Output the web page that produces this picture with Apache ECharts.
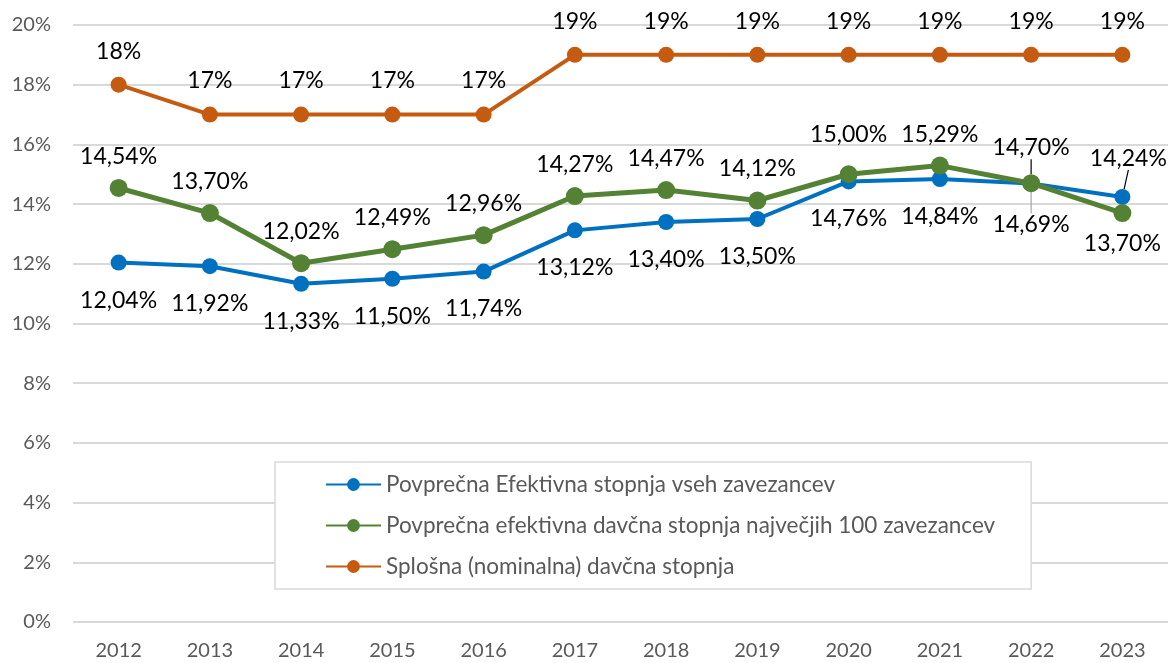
<!DOCTYPE html>
<html>
<head>
<meta charset="utf-8">
<script src="https://cdn.jsdelivr.net/npm/echarts@6/dist/echarts.min.js"></script>
<style>
  html, body { margin: 0; padding: 0; background: #fff; }
  #chart { width: 1174px; height: 663px; }
</style>
</head>
<body>
<div id="chart"></div>
<script>
var years = ['2012', '2013', '2014', '2015', '2016', '2017', '2018', '2019', '2020', '2021', '2022', '2023']
var vsiZavezanci = [12.04, 11.92, 11.33, 11.50, 11.74, 13.12, 13.40, 13.50, 14.76, 14.84, 14.69, 14.24]
var najvecjih100 = [14.54, 13.70, 12.02, 12.49, 12.96, 14.27, 14.47, 14.12, 15.00, 15.29, 14.70, 13.70]
var nominalna = [18, 17, 17, 17, 17, 19, 19, 19, 19, 19, 19, 19]
var yTicks = [0, 2, 4, 6, 8, 10, 12, 14, 16, 18, 20]

var fontFamily = 'Lato, "Open Sans", sans-serif'

function pct2(p) {
  return p.value.toFixed(2).replace('.', ',') + '%'
}

var labelBase = {
  show: true,
  color: '#000',
  fontSize: 23,
  fontFamily: fontFamily
}

// points whose label was pushed away get a leader line
function withLine(values, idxs, colors) {
  return values.map(function (v, i) {
    var k = idxs.indexOf(i)
    if (k < 0) return v
    return { value: v, labelLine: { show: true, lineStyle: { color: colors[k], width: 1.2 } } }
  })
}

var chart = echarts.init(document.getElementById('chart'))
chart.setOption({
  animation: false,
  grid: {
    left: 73,
    right: 6,
    top: 25,
    bottom: 41
  },
  legend: {
    orient: 'vertical',
    left: 275,
    top: 462,
    padding: [11, 36, 11, 50],
    itemGap: 18,
    itemWidth: 55,
    itemHeight: 16,
    borderColor: '#d9d9d9',
    borderWidth: 1.5,
    backgroundColor: '#fff',
    textStyle: {
      color: '#595959',
      fontSize: 22.5,
      fontFamily: fontFamily
    },
    data: [
      'Povprečna Efektivna stopnja vseh zavezancev',
      'Povprečna efektivna davčna stopnja največjih 100 zavezancev',
      'Splošna (nominalna) davčna stopnja'
    ]
  },
  xAxis: {
    type: 'category',
    data: years,
    axisLine: { show: false },
    axisTick: { show: false },
    axisLabel: {
      color: '#595959',
      fontSize: 20,
      fontFamily: fontFamily,
      margin: 19
    }
  },
  yAxis: {
    type: 'value',
    min: yTicks[0],
    max: yTicks[yTicks.length - 1],
    interval: 2,
    axisLine: { show: false },
    axisTick: { show: false },
    axisLabel: {
      color: '#595959',
      fontSize: 20,
      fontFamily: fontFamily,
      margin: 22,
      formatter: '{value}%'
    },
    splitLine: {
      lineStyle: { color: '#d9d9d9', width: 2 }
    }
  },
  series: [
    {
      name: 'Povprečna Efektivna stopnja vseh zavezancev',
      type: 'line',
      data: withLine(vsiZavezanci, [10, 11], ['#a6a6a6', '#000']),
      z: 3,
      symbol: 'circle',
      symbolSize: 16,
      color: '#0070C0',
      lineStyle: { width: 4 },
      label: Object.assign({}, labelBase, {
        position: 'bottom',
        distance: 18,
        formatter: pct2
      }),
      labelLayout: function (p) {
        if (p.dataIndex === 11) return { dy: -76, dx: 6 }
        if (p.dataIndex === 10) return { dy: 4 }
        return {}
      }
    },
    {
      name: 'Povprečna efektivna davčna stopnja največjih 100 zavezancev',
      type: 'line',
      data: withLine(najvecjih100, [10], ['#000']),
      z: 4,
      symbol: 'circle',
      symbolSize: 18,
      color: '#548235',
      lineStyle: { width: 5 },
      label: Object.assign({}, labelBase, {
        position: 'top',
        distance: 11,
        formatter: pct2
      }),
      labelLayout: function (p) {
        if (p.dataIndex === 11) return { dy: 62 }
        if (p.dataIndex === 10) return { dy: -4 }
        if (p.dataIndex === 8) return { dy: -8 }
        return {}
      }
    },
    {
      name: 'Splošna (nominalna) davčna stopnja',
      type: 'line',
      data: nominalna,
      z: 2,
      symbol: 'circle',
      symbolSize: 16,
      color: '#C55A11',
      lineStyle: { width: 4 },
      label: Object.assign({}, labelBase, {
        position: 'top',
        distance: 14,
        formatter: function (p) { return p.value + '%' }
      })
    }
  ]
})
</script>
</body>
</html>
